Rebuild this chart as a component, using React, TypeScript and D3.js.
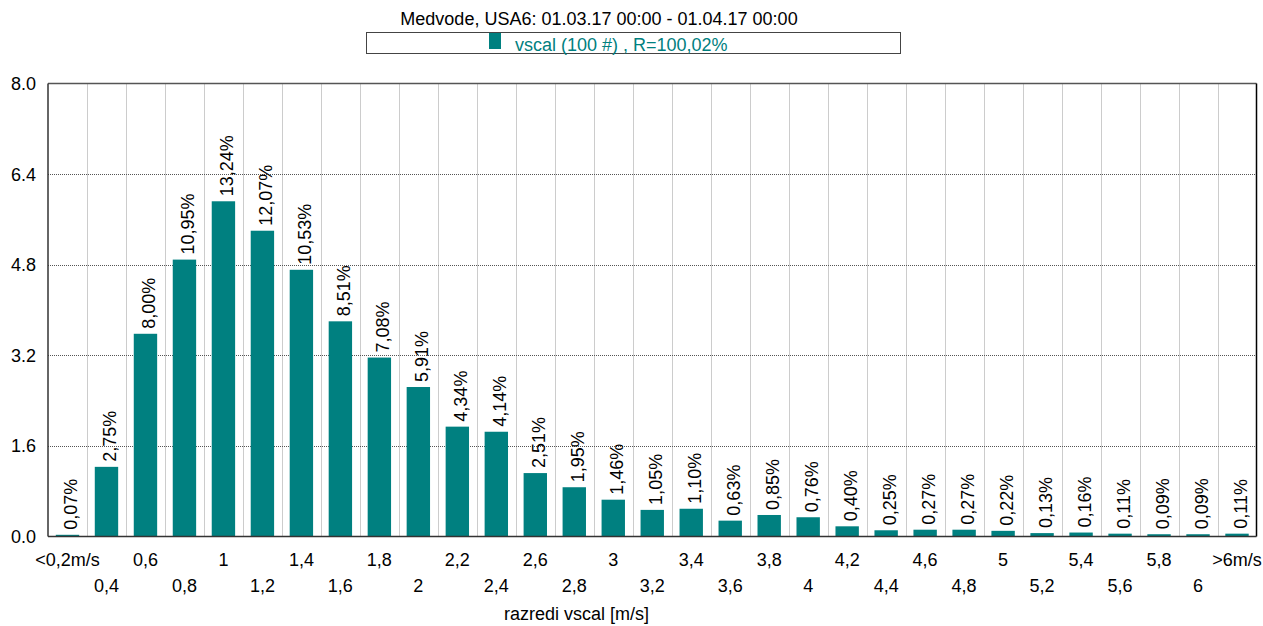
import React from "react";
import * as d3 from "d3";

const categories: string[] = [
  "<0,2m/s", "0,4", "0,6", "0,8", "1", "1,2", "1,4", "1,6", "1,8", "2",
  "2,2", "2,4", "2,6", "2,8", "3", "3,2", "3,4", "3,6", "3,8", "4",
  "4,2", "4,4", "4,6", "4,8", "5", "5,2", "5,4", "5,6", "5,8", "6", ">6m/s",
];

const barValues: number[] = [
  0.03, 1.23, 3.58, 4.89, 5.92, 5.4, 4.71, 3.8, 3.16, 2.64,
  1.94, 1.85, 1.12, 0.87, 0.65, 0.47, 0.49, 0.28, 0.38, 0.34,
  0.18, 0.11, 0.12, 0.12, 0.1, 0.06, 0.07, 0.05, 0.04, 0.04, 0.05,
];

const percentLabels: string[] = [
  "0,07%", "2,75%", "8,00%", "10,95%", "13,24%", "12,07%", "10,53%", "8,51%", "7,08%", "5,91%",
  "4,34%", "4,14%", "2,51%", "1,95%", "1,46%", "1,05%", "1,10%", "0,63%", "0,85%", "0,76%",
  "0,40%", "0,25%", "0,27%", "0,27%", "0,22%", "0,13%", "0,16%", "0,11%", "0,09%", "0,09%", "0,11%",
];

const yTicks: number[] = [0, 1.6, 3.2, 4.8, 6.4, 8.0];

const titleText = "Medvode, USA6: 01.03.17 00:00 - 01.04.17 00:00";
const legendText = "vscal (100 #) , R=100,02%";
const xAxisTitle = "razredi vscal [m/s]";

const W = 1263;
const H = 626;
const plot = { left: 48, right: 1256.5, top: 83.5, bottom: 536.5 };
const TEAL = "#008080";
const FONT = "'Liberation Sans', Arial, sans-serif";
const FS = 18;

export default function App() {
  const x = d3
    .scaleBand<string>()
    .domain(categories)
    .range([plot.left, plot.right])
    .paddingInner(0.4)
    .paddingOuter(0.2);
  const step = x.step();
  const y = d3.scaleLinear().domain([0, 8]).range([plot.bottom, plot.top]);

  const boundaries = categories.slice(1).map((c) => (x(c) as number) - step * 0.2);

  return (
    <svg
      width={W}
      height={H}
      style={{ position: "absolute", left: 0, top: 0, background: "#fff" }}
      fontFamily={FONT}
    >
      <rect x={0} y={0} width={W} height={H} fill="#fff" />
      <text x={599} y={25} textAnchor="middle" fontSize={FS} fill="#000">
        {titleText}
      </text>
      <rect x={366.5} y={32.5} width={534} height={21} fill="#fff" stroke="#444" strokeWidth={1} />
      <rect x={489} y={33} width={12} height={16} fill={TEAL} />
      <text x={515} y={51} fontSize={FS} fill={TEAL}>
        {legendText}
      </text>

      {/* vertical grid */}
      {boundaries.map((bx, i) => (
        <line
          key={"vg" + i}
          x1={Math.round(bx) + 0.5}
          x2={Math.round(bx) + 0.5}
          y1={plot.top}
          y2={plot.bottom}
          stroke="#999"
          strokeWidth={1}
          strokeDasharray="1,1"
        />
      ))}
      {/* horizontal grid */}
      {yTicks.slice(1, -1).map((t, i) => (
        <line
          key={"hg" + i}
          x1={plot.left}
          x2={plot.right}
          y1={Math.round(y(t)) + 0.5}
          y2={Math.round(y(t)) + 0.5}
          stroke="#555"
          strokeWidth={1}
          strokeDasharray="1,1"
        />
      ))}

      {/* bars */}
      {categories.map((c, i) => (
        <rect
          key={"b" + i}
          x={x(c) as number}
          y={y(barValues[i])}
          width={x.bandwidth()}
          height={plot.bottom - y(barValues[i])}
          fill={TEAL}
        />
      ))}

      {/* value labels */}
      {categories.map((c, i) => {
        const cx = (x(c) as number) + x.bandwidth() / 2 + 9.5;
        const cy = y(barValues[i]) - 5;
        return (
          <text
            key={"l" + i}
            x={0}
            y={0}
            transform={`translate(${cx},${cy}) rotate(-90)`}
            fontSize={FS}
            fill="#000"
          >
            {percentLabels[i]}
          </text>
        );
      })}

      {/* frame */}
      <line x1={plot.left} x2={plot.right} y1={plot.top} y2={plot.top} stroke="#555" strokeWidth={1.5} />
      <line x1={plot.right} x2={plot.right} y1={plot.top} y2={plot.bottom} stroke="#000" strokeWidth={1.5} />
      <line x1={plot.left} x2={plot.left} y1={plot.top} y2={plot.bottom} stroke="#333" strokeWidth={1.5} />
      <line x1={plot.left} x2={plot.right} y1={plot.bottom} y2={plot.bottom} stroke="#333" strokeWidth={1.5} />

      {/* y tick labels */}
      {yTicks.map((t, i) => (
        <text key={"yt" + i} x={36} y={y(t) + 6.5} textAnchor="end" fontSize={FS} fill="#000">
          {t.toFixed(1)}
        </text>
      ))}

      {/* x tick labels */}
      {categories.map((c, i) => (
        <text
          key={"xt" + i}
          x={(x(c) as number) + x.bandwidth() / 2}
          y={i % 2 === 0 ? 566 : 591.5}
          textAnchor="middle"
          fontSize={FS}
          fill="#000"
        >
          {c}
        </text>
      ))}

      <text x={576.5} y={620} textAnchor="middle" fontSize={FS} fill="#000">
        {xAxisTitle}
      </text>
    </svg>
  );
}
